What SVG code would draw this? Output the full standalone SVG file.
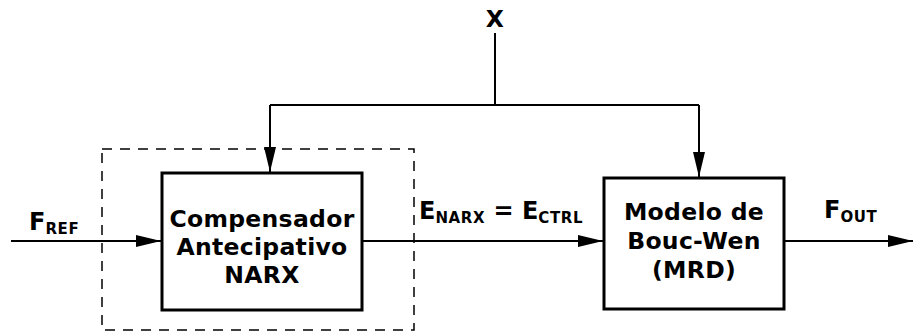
<svg xmlns="http://www.w3.org/2000/svg" width="913" height="334" viewBox="0 0 913 334">
<style>
text{font-family:"DejaVu Sans","Liberation Sans",sans-serif;font-weight:bold;fill:#000}
.box{fill:#fff;stroke:#000;stroke-width:3}
.ln{fill:none;stroke:#000;stroke-width:2}
.lbl{font-size:23.5px;text-anchor:middle;letter-spacing:0.3px}
.tag{font-size:24px}
.sub{font-size:15px;letter-spacing:0.6px}
</style>
<defs>
<marker id="ah" markerWidth="25" markerHeight="12" refX="25" refY="6" orient="auto" markerUnits="userSpaceOnUse">
<path d="M0,0 L25,6 L0,12 Z" fill="#000"/>
</marker>
</defs>
<rect x="102" y="149" width="312" height="181" fill="none" stroke="#000" stroke-width="1.5" stroke-dasharray="10,8"/>
<g id="connectors">
<path class="ln" d="M495,33 V105"/>
<path class="ln" d="M270,105 H699"/>
<path class="ln" d="M270,105 V172" marker-end="url(#ah)"/>
<path class="ln" d="M699,105 V177" marker-end="url(#ah)"/>
<path class="ln" d="M11,241 H161" marker-end="url(#ah)"/>
<path class="ln" d="M362,241 H603" marker-end="url(#ah)"/>
<path class="ln" d="M784,241 H913" marker-end="url(#ah)"/>
</g>
<g id="narx">
<rect class="box" x="162" y="173" width="200" height="137"/>
<text class="lbl" x="262" y="227">Compensador</text>
<text class="lbl" x="262" y="255">Antecipativo</text>
<text class="lbl" x="262" y="283">NARX</text>
</g>
<g id="mrd">
<rect class="box" x="604" y="178" width="180" height="131"/>
<text class="lbl" x="694" y="220">Modelo de</text>
<text class="lbl" x="694" y="249">Bouc-Wen</text>
<text class="lbl" x="694" y="278">(MRD)</text>
</g>
<g id="x-input">
<text class="lbl" x="495" y="27">X</text>
</g>
<g id="labels">
<text class="tag" x="29" y="230">F<tspan class="sub" dy="4">REF</tspan></text>
<text class="tag" x="419" y="219">E<tspan class="sub" dy="4">NARX</tspan><tspan dy="-4"> = E</tspan><tspan class="sub" dy="4">CTRL</tspan></text>
<text class="tag" x="824" y="218">F<tspan class="sub" dy="4">OUT</tspan></text>
</g>
</svg>
